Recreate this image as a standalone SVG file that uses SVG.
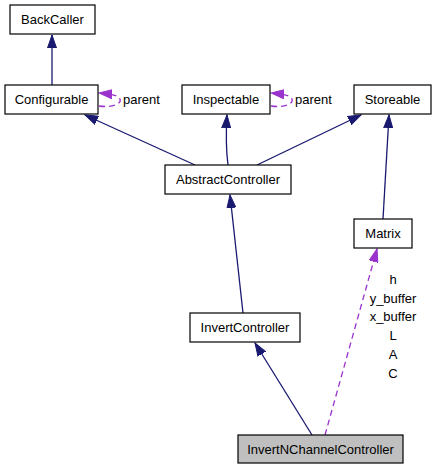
<svg xmlns="http://www.w3.org/2000/svg" width="435" height="469" viewBox="0 0 435 469">
<style>
.node rect{fill:#ffffff;stroke:#000000;stroke-width:1.2}
.node rect.cur{fill:#bfbfbf}
text{font-family:"Liberation Sans",Arial,sans-serif;font-size:13px;fill:#000000}
.node text{text-anchor:middle}
.lbl{text-anchor:middle}
.inh{fill:none;stroke:#191970;stroke-width:1.3}
.use{fill:none;stroke:#9a32cd;stroke-width:1.3;stroke-dasharray:6,4}
</style>
<defs>
<marker id="ah" markerUnits="userSpaceOnUse" markerWidth="14" markerHeight="10" refX="13" refY="5" orient="auto">
<path d="M0,0.5 L13,5 L0,9.5 z" fill="#191970" stroke="#191970" stroke-width="1"/>
</marker>
<marker id="ap" markerUnits="userSpaceOnUse" markerWidth="14" markerHeight="10" refX="13" refY="5" orient="auto">
<path d="M0,0.5 L13,5 L0,9.5 z" fill="#9a32cd" stroke="#9a32cd" stroke-width="1"/>
</marker>
</defs>
<g id="edges">
<path class="inh" d="M52,85 L52,35" marker-end="url(#ah)"/>
<path class="inh" d="M195,165 L85,115" marker-end="url(#ah)"/>
<path class="inh" d="M228,165 C226,150 226,132 227,115" marker-end="url(#ah)"/>
<path class="inh" d="M257,165 L361,115" marker-end="url(#ah)"/>
<path class="inh" d="M383,219 L389,115" marker-end="url(#ah)"/>
<path class="inh" d="M243,313 L230,195" marker-end="url(#ah)"/>
<path class="inh" d="M312,435 L255,343" marker-end="url(#ah)"/>
<path class="use" d="M325,435 L377,249" marker-end="url(#ap)"/>
<path class="use" d="M99,106 C112,108 122,104 120,99 C118,95 110,94 99,93" marker-end="url(#ap)"/>
<path class="use" d="M271,106 C284,108 294,104 292,99 C290,95 282,94 271,93" marker-end="url(#ap)"/>
<text x="123" y="103.5">parent</text>
<text x="295" y="103.5">parent</text>
<text class="lbl" x="393" y="284">h</text>
<text class="lbl" x="393" y="302.7">y_buffer</text>
<text class="lbl" x="393" y="321.4">x_buffer</text>
<text class="lbl" x="393" y="340.1">L</text>
<text class="lbl" x="393" y="358.8">A</text>
<text class="lbl" x="393" y="377.5">C</text>
</g>
<g id="BackCaller" class="node"><rect x="10" y="5" width="85" height="29"/><text x="52.5" y="24">BackCaller</text></g>
<g id="Configurable" class="node"><rect x="5" y="85" width="93" height="29"/><text x="51.5" y="104">Configurable</text></g>
<g id="Inspectable" class="node"><rect x="182" y="85" width="88" height="29"/><text x="226" y="104">Inspectable</text></g>
<g id="Storeable" class="node"><rect x="354" y="85" width="77" height="29"/><text x="392.5" y="104">Storeable</text></g>
<g id="AbstractController" class="node"><rect x="165" y="165" width="126" height="29"/><text x="228" y="184">AbstractController</text></g>
<g id="Matrix" class="node"><rect x="354" y="219" width="58" height="29"/><text x="383" y="238">Matrix</text></g>
<g id="InvertController" class="node"><rect x="190" y="313" width="110" height="29"/><text x="245" y="332">InvertController</text></g>
<g id="InvertNChannelController" class="node"><rect class="cur" x="238" y="435" width="165" height="28"/><text x="320.5" y="453.5">InvertNChannelController</text></g>
</svg>
